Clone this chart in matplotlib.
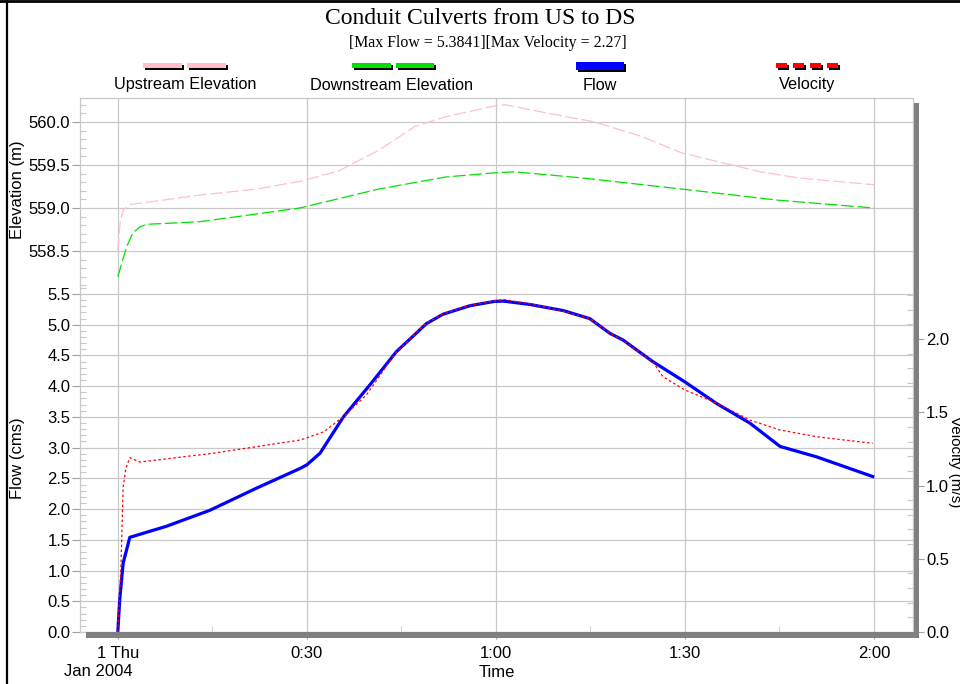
import matplotlib

matplotlib.use("Agg")

import matplotlib.pyplot as plt
from matplotlib.lines import Line2D
from matplotlib.patches import Rectangle
from matplotlib.ticker import FixedLocator, FormatStrFormatter, MultipleLocator

# time axis in minutes after 1 Jan 2004 00:00
flow_minutes = [0, 0.3, 0.85, 1.9, 7.7, 14.6, 22, 28.9, 30, 32.1, 35.8, 40, 44.2, 49, 51.6,
                55.9, 59.8, 61.2, 65.4, 70.7, 74.9, 78.1, 80.2, 84.9, 90, 95, 100.3, 105.1,
                110.9, 119.8]
flow_cms = [0, 0.52, 1.12, 1.54, 1.72, 1.98, 2.34, 2.66, 2.72, 2.91, 3.50, 4.02, 4.56, 5.02, 5.17,
            5.31, 5.38, 5.3841, 5.33, 5.23, 5.10, 4.86, 4.75, 4.40, 4.07, 3.72, 3.40, 3.02,
            2.85, 2.53]

vel_minutes = [0, 0.5, 0.85, 1.3, 1.9, 3.5, 15.1, 28.9, 30, 32.7, 35.8, 39.5, 42.7, 44.2, 49,
               51.6, 55.9, 59.8, 61.2, 65.4, 70.7, 74.9, 78.1, 80.2, 84.9, 86.5, 90, 95, 100.3,
               105.1, 110.9, 119.8]
velocity = [0, 0.45, 0.99, 1.12, 1.19, 1.16, 1.22, 1.31, 1.325, 1.367, 1.47, 1.62, 1.82, 1.91,
            2.11, 2.17, 2.23, 2.26, 2.27, 2.24, 2.19, 2.14, 2.04, 1.99, 1.845, 1.743, 1.652,
            1.563, 1.447, 1.379, 1.333, 1.288]

up_minutes = [0, 0.4, 0.9, 2, 5, 13, 22, 28.9, 35, 41.4, 47.2, 52, 60, 61.5, 68.4, 75.7, 83.2,
              89.5, 102, 108, 120]
up_elev = [558.51, 558.85, 558.98, 559.04, 559.07, 559.15, 559.22, 559.31, 559.43, 559.67,
           559.95, 560.06, 560.19, 560.20, 560.10, 560.0, 559.83, 559.64, 559.42, 559.35, 559.27]

dn_minutes = [0, 1.4, 2.4, 3.5, 4.6, 13, 20, 28.9, 41.4, 52, 60, 63, 73.6, 89.5, 104.9, 120]
dn_elev = [558.20, 558.55, 558.71, 558.78, 558.81, 558.84, 558.91, 559.0, 559.22, 559.36,
           559.41, 559.42, 559.35, 559.22, 559.09, 559.0]

time_ticks = [0, 30, 60, 90, 120]
time_labels = ["1 Thu", "0:30", "1:00", "1:30", "2:00"]

W, H = 960, 684
GRID = "#c8c8c8"
SHADOW = "#808080"


def fx(px):
    return px / W


def fy(py):
    return 1 - py / H


def legend_bar(x0, x1, y, h, color):
    fig.add_artist(Rectangle((fx(x0 + 2), fy(y + h + 2)), (x1 - x0) / W, h / H,
                             transform=fig.transFigure, facecolor="black", lw=0))
    fig.add_artist(Rectangle((fx(x0), fy(y + h)), (x1 - x0) / W, h / H,
                             transform=fig.transFigure, facecolor=color, lw=0))


plt.rcParams["font.family"] = ["Liberation Sans", "DejaVu Sans"]

fig = plt.figure(figsize=(9.6, 6.84), dpi=100)
fig.patch.set_facecolor("white")

ax_elev = fig.add_axes([fx(80), fy(287), (913 - 80) / W, (287 - 98) / H])
ax_flow = fig.add_axes([fx(80), fy(632), (913 - 80) / W, (632 - 287) / H])
ax_vel = ax_flow.twinx()

ax_elev.plot(up_minutes, up_elev, color="#ffc0cb", lw=0.9, ls=(0, (10, 3)))
ax_elev.plot(dn_minutes, dn_elev, color="#00e000", lw=0.9, ls=(0, (10, 3)))
ax_flow.plot(flow_minutes, flow_cms, color="#0000ff", lw=2.3, solid_joinstyle="round")
ax_vel.plot(vel_minutes, velocity, color="#ff0000", lw=0.9, ls=(0, (2, 2)))

for ax in (ax_elev, ax_flow):
    ax.set_xlim(-6, 126.2)
    ax.xaxis.set_major_locator(FixedLocator(time_ticks))
    ax.xaxis.set_minor_locator(MultipleLocator(15))
    ax.yaxis.set_major_locator(MultipleLocator(0.5))
    ax.yaxis.set_minor_locator(MultipleLocator(0.1))
    ax.yaxis.set_major_formatter(FormatStrFormatter("%.1f"))
    ax.grid(True, which="major", color=GRID, lw=0.9)
    ax.set_axisbelow(True)
    for spine in ax.spines.values():
        spine.set_color(GRID)
        spine.set_linewidth(0.9)
    ax.tick_params(axis="y", which="major", direction="out", length=6, width=0.8,
                   color="#a0a0a0", labelsize=12, pad=1)
    ax.tick_params(axis="y", which="minor", direction="in", length=4.5, width=0.8, color=GRID)

ax_elev.set_ylim(558.081, 560.279)
ax_elev.spines["bottom"].set_visible(False)
ax_elev.tick_params(axis="x", which="both", length=0, labelbottom=False)

ax_flow.set_ylim(0, 5.614)
ax_flow.spines["top"].set_visible(False)
ax_flow.set_xticklabels(time_labels)
ax_flow.tick_params(axis="x", which="major", direction="out", length=5, color="#a0a0a0",
                    labelsize=12, pad=5)
ax_flow.tick_params(axis="x", which="minor", direction="in", length=4, color=GRID)
ax_flow.set_xlabel("Time", fontsize=12, labelpad=3)

ax_vel.set_ylim(0, 2.355)
ax_vel.yaxis.set_major_locator(MultipleLocator(0.5))
ax_vel.yaxis.set_minor_locator(MultipleLocator(0.1))
ax_vel.yaxis.set_major_formatter(FormatStrFormatter("%.1f"))
for spine in ax_vel.spines.values():
    spine.set_visible(False)
ax_vel.tick_params(axis="y", which="major", direction="out", length=8, width=0.8,
                   color="#a0a0a0", labelsize=12, pad=1.5)
ax_vel.tick_params(axis="y", which="minor", direction="in", length=4.5, width=0.8, color=GRID)

# drop shadow of the plot frame
fig.add_artist(Rectangle((fx(914), fy(638)), 5 / W, (638 - 103) / H,
                         transform=fig.transFigure, facecolor=SHADOW, lw=0, zorder=5))
fig.add_artist(Rectangle((fx(86), fy(638)), (919 - 86) / W, 6 / H,
                         transform=fig.transFigure, facecolor=SHADOW, lw=0, zorder=5))

# window border
fig.add_artist(Line2D([0, 1], [fy(1), fy(1)], transform=fig.transFigure, color="black", lw=2))
fig.add_artist(Line2D([fx(7), fx(7)], [0, 1], transform=fig.transFigure, color="black", lw=1.6))

fig.text(0.5, fy(19), "Conduit Culverts from US to DS", family="Liberation Serif",
         fontsize=17, ha="center", va="center")
fig.text(fx(488), fy(43), "[Max Flow = 5.3841][Max Velocity = 2.27]", family="Liberation Serif",
         fontsize=11.4, ha="center", va="center")

# legend
legend_bar(143, 182, 63, 5, "#ffc0cb")
legend_bar(187, 226, 63, 5, "#ffc0cb")
legend_bar(352, 391, 63, 5, "#00e000")
legend_bar(396, 434, 63, 5, "#00e000")
legend_bar(576, 624, 62, 8, "#0000ff")
for x0 in (776, 793, 810, 827):
    legend_bar(x0, x0 + 11, 63, 5, "#ff0000")
fig.text(fx(185), fy(85), "Upstream Elevation", fontsize=11.7, ha="center", va="center")
fig.text(fx(392), fy(85), "Downstream Elevation", fontsize=11.7, ha="center", va="center")
fig.text(fx(600), fy(85), "Flow", fontsize=11.7, ha="center", va="center")
fig.text(fx(807), fy(85), "Velocity", fontsize=11.7, ha="center", va="center")

fig.text(fx(18), fy(190), "Elevation (m)", fontsize=12, rotation=90, ha="center", va="center")
fig.text(fx(18), fy(458), "Flow (cms)", fontsize=12, rotation=90, ha="center", va="center")
fig.text(fx(955), fy(462), "Velocity (m/s)", fontsize=11, rotation=270, ha="center", va="center")
fig.text(fx(98), fy(671), "Jan 2004", fontsize=12, ha="center", va="center")

fig.savefig("out.png", dpi=100)
